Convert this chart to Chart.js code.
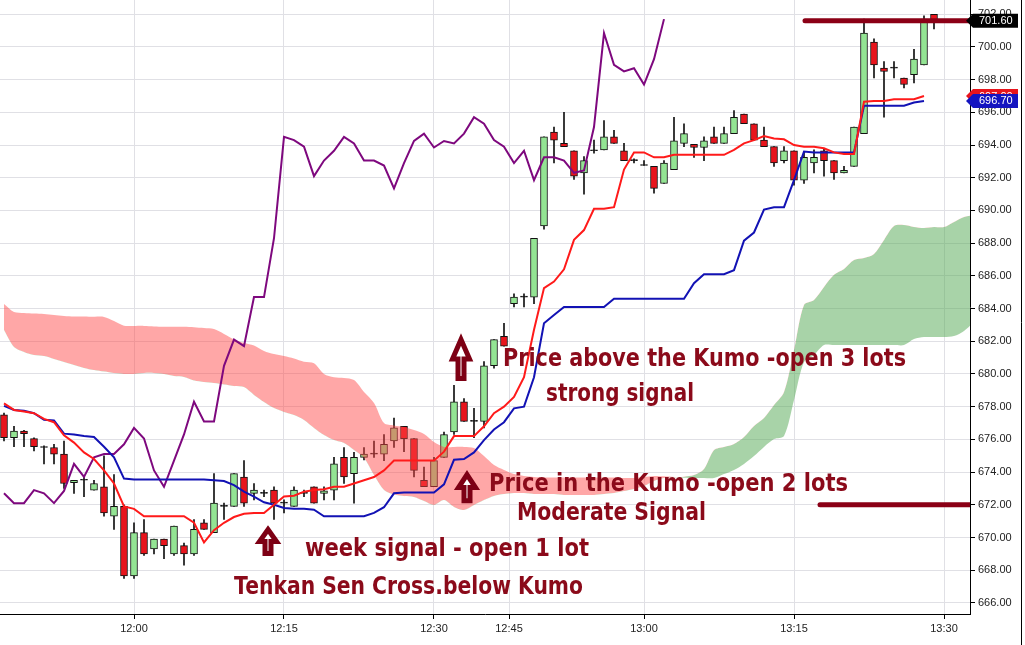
<!DOCTYPE html>
<html lang="en">
<head>
<meta charset="UTF-8">
<title>Ichimoku - sinais</title>
<script src="https://cdn.jsdelivr.net/npm/chart.js"></script>
<style>
  html, body { margin: 0; padding: 0; background: #fff; }
  .wrap { position: relative; width: 1025px; height: 645px; }
</style>
</head>
<body>
<div class="wrap"><canvas id="grafico"></canvas></div>
<script>
// one candle per 1-minute bar, index 0 = first bar on the left
const opens = [
  677.5, 676.1, 676.5, 676.05, 675.5, 675.5, 675.1, 673.35, 673.5, 672.9,
  673.1, 671.3, 671.9, 667.65, 670.3, 669.3, 669.9, 669.0, 669.5, 669.0,
  670.9, 670.3, 671.9, 671.9, 673.7, 672.7, 672.7, 672.9, 672.1, 671.9,
  672.7, 673.1, 672.7, 672.9, 674.9, 673.9, 674.9, 675.1, 675.1, 675.9,
  676.8, 676.05, 673.5, 673.1, 674.9, 676.45, 678.3, 677.1, 677.1, 680.5,
  682.3, 684.3, 684.7, 684.7, 689.05, 694.8, 694.1, 693.65, 692.3, 693.65,
  693.7, 694.5, 693.65, 693.05, 692.75, 692.7, 691.65, 692.5, 694.1, 694.05,
  693.85, 694.5, 694.1, 694.7, 695.9, 695.3, 694.3, 693.9, 693.05, 693.65,
  691.85, 692.9, 693.65, 693.05, 692.3, 692.7, 694.7, 700.3, 698.7, 698.7,
  698.1, 698.3, 698.9, 702.0
];
const highs = [
  677.6, 676.8, 676.55, 676.1, 675.6, 675.7, 675.9, 673.5, 673.7, 673.5,
  675.0, 673.85, 672.0, 670.9, 671.1, 669.9, 669.9, 670.7, 669.65, 671.1,
  671.1, 673.9, 672.1, 673.9, 674.7, 673.3, 672.9, 673.1, 672.3, 673.1,
  672.9, 673.1, 673.1, 674.9, 675.5, 675.2, 675.5, 675.9, 676.3, 677.3,
  676.8, 676.05, 674.3, 674.9, 676.45, 679.3, 678.5, 677.9, 680.75, 682.1,
  683.1, 684.9, 684.9, 688.3, 694.5, 695.1, 696.0, 693.65, 693.3, 694.3,
  695.5, 694.9, 694.1, 693.15, 693.05, 692.7, 693.05, 695.7, 695.3, 694.05,
  694.5, 695.1, 695.1, 696.1, 695.9, 695.3, 695.1, 693.9, 693.9, 693.65,
  693.6, 693.7, 693.8, 693.05, 692.7, 695.1, 701.7, 700.5, 699.1, 699.1,
  698.1, 699.85, 701.9, 702.0
];
const lows = [
  675.9, 675.55, 675.55, 675.3, 674.5, 674.5, 673.0, 672.7, 672.5, 672.9,
  671.3, 670.5, 667.5, 667.5, 668.9, 669.0, 668.7, 668.9, 668.3, 668.9,
  670.5, 670.3, 671.1, 671.9, 671.9, 672.3, 672.5, 671.1, 671.5, 671.9,
  672.5, 672.1, 672.3, 672.3, 673.3, 672.1, 674.75, 674.9, 674.7, 675.5,
  675.25, 673.7, 673.1, 673.1, 674.9, 676.3, 677.1, 676.1, 676.7, 680.35,
  681.7, 684.1, 684.1, 684.3, 688.85, 692.9, 693.9, 691.9, 691.0, 693.5,
  693.7, 694.1, 693.05, 692.9, 692.75, 691.05, 691.65, 692.5, 693.9, 693.25,
  693.05, 694.1, 694.1, 694.7, 695.3, 694.3, 693.9, 692.7, 692.9, 691.55,
  691.65, 692.3, 692.1, 691.9, 692.3, 692.7, 694.7, 698.1, 695.7, 698.1,
  697.5, 697.8, 698.9, 701.1
];
const closes = [
  676.1, 676.5, 676.35, 675.55, 675.5, 675.1, 673.3, 673.5, 673.5, 673.3,
  671.5, 671.9, 667.65, 670.3, 669.0, 669.9, 669.5, 670.7, 669.0, 670.5,
  670.5, 672.1, 671.9, 673.9, 672.1, 672.9, 672.7, 672.1, 672.1, 672.9,
  672.7, 672.1, 672.85, 674.5, 673.7, 674.9, 675.1, 675.1, 675.7, 676.7,
  676.05, 674.1, 673.1, 674.7, 676.3, 678.3, 677.1, 677.1, 680.5, 682.1,
  681.7, 684.7, 684.7, 688.3, 694.5, 694.3, 693.9, 692.1, 693.05, 693.65,
  694.5, 694.1, 693.05, 693.05, 692.75, 691.35, 692.9, 694.25, 694.7, 693.85,
  694.25, 694.1, 694.7, 695.7, 695.3, 694.3, 693.9, 692.9, 693.65, 691.85,
  693.25, 693.25, 693.05, 692.3, 692.45, 695.1, 700.85, 698.9, 698.5, 698.7,
  697.7, 699.25, 701.7, 701.6
];

// Tenkan Sen (red) and Kijun Sen (blue), bars 0..92
const tenkan = [
  678.2, 677.8, 677.7, 677.6, 677.25, 677.05, 676.25, 675.8, 675.2, 674.8,
  674.1, 673.3, 671.9, 671.75, 671.3, 671.3, 671.3, 671.3, 671.3, 670.9,
  669.7, 670.45, 670.9, 671.25, 671.45, 671.5, 671.5, 672.0, 672.5, 672.55,
  672.8, 672.9, 672.95, 673.1, 673.1, 673.3, 673.5, 673.7, 674.1, 674.7,
  674.7, 674.7, 674.7, 674.7, 675.25, 676.2, 676.2, 676.2, 676.8, 677.6,
  678.0, 678.6, 679.8, 682.7, 685.25, 685.65, 686.4, 688.2, 688.8, 690.1,
  690.1, 690.2, 692.5, 693.55, 693.55, 693.25, 693.25, 693.4, 693.4, 693.4,
  693.4, 693.4, 693.4, 693.7, 694.1, 694.3, 694.55, 694.4, 694.35, 694.0,
  693.9, 693.9, 693.8, 693.55, 693.45, 693.45, 696.65, 696.7, 696.7, 696.8,
  696.8, 696.8, 697.0
];
const kijun = [
  678.05, 677.8, 677.75, 677.6, 677.2, 677.15, 676.35, 676.3, 676.2, 676.15,
  675.55, 674.9, 673.6, 673.55, 673.55, 673.55, 673.55, 673.55, 673.55, 673.55,
  673.55, 673.5, 673.45, 673.2, 672.8, 672.5, 672.15, 672.0, 671.8, 671.75,
  671.75, 671.7, 671.3, 671.3, 671.3, 671.3, 671.3, 671.5, 671.85, 672.7,
  672.75, 672.75, 672.75, 672.75, 673.25, 674.75, 674.8, 675.2, 675.95, 676.6,
  677.05, 677.9, 678.0, 679.8, 683.1, 683.6, 684.1, 684.1, 684.1, 684.1,
  684.1, 684.6, 684.6, 684.6, 684.6, 684.6, 684.6, 684.6, 684.6, 685.55,
  686.1, 686.1, 686.1, 686.35, 688.15, 688.65, 690.05, 690.2, 690.2, 691.85,
  693.6, 693.55, 693.55, 693.55, 693.55, 693.55, 696.4, 696.4, 696.4, 696.4,
  696.4, 696.6, 696.7
];
// Chikou Span (purple), bars 0..66
const chikou = [
  672.7, 672.1, 672.1, 672.9, 672.7, 672.1, 672.85, 674.5, 673.7, 674.9,
  675.1, 675.1, 675.7, 676.7, 676.05, 674.1, 673.1, 674.7, 676.3, 678.3,
  677.1, 677.1, 680.5, 682.1, 681.7, 684.7, 684.7, 688.3, 694.5, 694.3,
  693.9, 692.1, 693.05, 693.65, 694.5, 694.1, 693.05, 693.05, 692.75, 691.35,
  692.9, 694.25, 694.7, 693.85, 694.25, 694.1, 694.7, 695.7, 695.3, 694.3,
  693.9, 692.9, 693.65, 691.85, 693.25, 693.25, 693.05, 692.3, 692.45, 695.1,
  700.85, 698.9, 698.5, 698.7, 697.7, 699.25, 701.7
];
// Kumo edges, bars 0..97
const spanA = [
  682.69, 681.65, 681.35, 681.16, 681.10, 680.92, 680.73, 680.55, 680.37, 680.24,
  680.15, 680.06, 680.00, 680.00, 680.06, 680.06, 680.00, 679.88, 679.82, 679.60,
  679.51, 679.45, 679.36, 679.27, 679.20, 678.72, 678.29, 677.92, 677.68, 677.49,
  677.19, 676.70, 676.27, 675.96, 675.78, 675.35, 674.86, 673.82, 672.91, 672.63,
  672.54, 672.48, 672.23, 671.99, 672.29, 671.87, 671.68, 671.99, 672.29, 672.54,
  672.66, 672.72, 672.72, 672.66, 672.66, 672.66, 672.60, 672.60, 672.60, 672.60,
  672.66, 672.72, 672.84, 672.97, 673.15, 673.46, 673.64, 673.67, 673.72, 673.82,
  674.19, 675.35, 675.54, 675.72, 676.15, 676.82, 677.31, 678.10, 678.90, 681.47,
  684.22, 684.53, 685.32, 686.06, 686.42, 686.97, 687.09, 687.34, 688.20, 689.05,
  689.11, 688.99, 688.93, 688.99, 688.99, 689.30, 689.60, 689.72
];
const spanB = [
  684.28, 683.79, 683.73, 683.70, 683.67, 683.61, 683.55, 683.52, 683.52, 683.50,
  683.49, 683.24, 682.95, 682.94, 682.94, 682.91, 682.89, 682.89, 682.89, 682.86,
  682.81, 682.75, 682.45, 682.11, 681.90, 681.74, 681.41, 681.22, 681.10, 680.95,
  680.75, 680.65, 680.00, 679.80, 679.76, 679.63, 678.90, 678.23, 677.00, 676.85,
  676.76, 676.57, 676.33, 675.84, 675.54, 675.54, 675.54, 675.47, 674.98, 674.43,
  674.13, 673.88, 673.76, 673.70, 673.67, 673.67, 673.67, 673.67, 673.67, 673.67,
  673.67, 673.67, 673.64, 673.64, 673.70, 673.76, 673.74, 673.70, 673.66, 673.64,
  673.64, 673.64, 673.88, 674.13, 674.50, 674.98, 675.54, 676.02, 676.21, 678.41,
  680.73, 681.16, 681.77, 681.77, 681.77, 681.77, 681.77, 681.77, 681.77, 681.77,
  681.77, 682.14, 682.26, 682.26, 682.26, 682.32, 682.63, 683.18
];

// horizontal price levels drawn by hand on the chart
const levelPrices = [701.6, 672.0];
const levelStartBars = [80.1, 81.6];

// axis ticks
const timeTickBars = [13, 28, 43, 50.5, 64, 79, 94];
const timeTickLabels = ['12:00', '12:15', '12:30', '12:45', '13:00', '13:15', '13:30'];
const priceTicks = [666, 668, 670, 672, 674, 676, 678, 680, 682, 684, 686, 688, 690, 692, 694, 696, 698, 700, 702];

// annotations (anchored to bar index / price)
const notes = [
  { text: 'Price above the Kumo -open 3 lots', bar: 49.9, price: 680.49, w: 403 },
  { text: 'strong signal', bar: 54.2, price: 678.35, w: 148 },
  { text: 'Price in the Kumo -open 2 lots', bar: 48.5, price: 672.84, w: 359 },
  { text: 'Moderate Signal', bar: 51.3, price: 671.07, w: 189 },
  { text: 'week signal - open 1 lot', bar: 30.1, price: 668.87, w: 284 },
  { text: 'Tenkan Sen Cross.below Kumo', bar: 23.0, price: 666.54, w: 349 }
];
const arrows = [
  { bar: 26.4, top: 670.64, bottom: 668.87 },
  { bar: 46.3, top: 674.0, bottom: 672.1 },
  { bar: 45.7, top: 682.26, bottom: 679.57 }
];

const xy = arr => arr.map((v, i) => ({ x: i, y: v }));
const corpo = opens.map((o, i) => ({ x: i, y: [o, closes[i]] }));
const pavio = lows.map((l, i) => ({ x: i, y: [l, highs[i]] }));

function corCandle(ctx) {
  const i = ctx.dataIndex;
  if (closes[i] > opens[i]) return '#93e493';
  if (closes[i] < opens[i]) return '#e8141c';
  return '#111';
}

const anotacoes = {
  id: 'anotacoes',
  afterDatasetsDraw(chart) {
    const { ctx, scales: { x, y } } = chart;
    ctx.save();
    // hollow up arrows
    arrows.forEach(a => {
      const cx = x.getPixelForValue(a.bar);
      const t = y.getPixelForValue(a.top) + 2.5;
      const b = y.getPixelForValue(a.bottom) - 2.5;
      const headH = Math.min(20, (b - t) * 0.5);
      ctx.beginPath();
      ctx.moveTo(cx, t);
      ctx.lineTo(cx + 8.5, t + headH);
      ctx.lineTo(cx + 3, t + headH);
      ctx.lineTo(cx + 3, b);
      ctx.lineTo(cx - 3, b);
      ctx.lineTo(cx - 3, t + headH);
      ctx.lineTo(cx - 8.5, t + headH);
      ctx.closePath();
      ctx.fillStyle = '#fff';
      ctx.fill();
      ctx.lineWidth = 5;
      ctx.lineJoin = 'miter';
      ctx.strokeStyle = '#7d0014';
      ctx.stroke();
    });
    // texts
    ctx.font = 'bold 24px "DejaVu Sans"';
    ctx.fillStyle = '#8b0a1a';
    ctx.textBaseline = 'alphabetic';
    ctx.textAlign = 'left';
    notes.forEach(n => {
      const px = x.getPixelForValue(n.bar);
      const py = y.getPixelForValue(n.price);
      const mw = ctx.measureText(n.text).width;
      ctx.save();
      ctx.translate(px, py);
      ctx.scale(n.w / mw, 1);
      ctx.fillText(n.text, 0, 0);
      ctx.restore();
    });
    ctx.restore();
  }
};

function etiqueta(ctx, x0, yc, cor, texto) {
  ctx.beginPath();
  ctx.moveTo(x0 - 4, yc);
  ctx.lineTo(x0 + 3, yc - 7);
  ctx.lineTo(x0 + 48, yc - 7);
  ctx.lineTo(x0 + 48, yc + 7);
  ctx.lineTo(x0 + 3, yc + 7);
  ctx.closePath();
  ctx.fillStyle = cor;
  ctx.fill();
  ctx.fillStyle = '#fff';
  ctx.font = '11px "Liberation Sans"';
  ctx.textBaseline = 'middle';
  ctx.textAlign = 'left';
  ctx.fillText(texto, x0 + 9, yc + 0.5);
}

const precos = {
  id: 'precos',
  afterDraw(chart) {
    const { ctx, chartArea, scales: { y } } = chart;
    const x0 = chartArea.right;
    ctx.save();
    const tk = tenkan[tenkan.length - 1];
    const kj = kijun[kijun.length - 1];
    const ult = closes[closes.length - 1];
    etiqueta(ctx, x0, y.getPixelForValue(tk), '#e8141c', tk.toFixed(2));
    etiqueta(ctx, x0, y.getPixelForValue(kj), '#1414c0', kj.toFixed(2));
    etiqueta(ctx, x0, y.getPixelForValue(ult), '#000', ult.toFixed(2));
    ctx.strokeStyle = '#000';
    ctx.lineWidth = 1;
    ctx.beginPath();
    ctx.moveTo(1021.5, 0);
    ctx.lineTo(1021.5, chart.height);
    ctx.stroke();
    ctx.restore();
  }
};

const datasets = [
  { type: 'line', label: 'Tenkan Sen', data: xy(tenkan), borderColor: '#ff1a1a', borderWidth: 2, pointRadius: 0, tension: 0, order: 1 },
  { type: 'line', label: 'Kijun Sen', data: xy(kijun), borderColor: '#1212b4', borderWidth: 2, pointRadius: 0, tension: 0, order: 1 },
  { type: 'line', label: 'Chikou Span', data: xy(chikou), borderColor: '#7e087e', borderWidth: 2, pointRadius: 0, tension: 0, order: 1 },
  { type: 'line', label: 'Senkou A', data: xy(spanA), borderColor: 'transparent', borderWidth: 0, pointRadius: 0, tension: 0.3, fill: false, order: 3 },
  { type: 'line', label: 'Senkou B', data: xy(spanB), borderColor: 'transparent', borderWidth: 0, pointRadius: 0, tension: 0.3,
    fill: { target: '-1', above: 'rgba(255,72,72,0.48)', below: 'rgba(82,168,82,0.5)' }, order: 3 },
  { type: 'bar', label: 'Corpo', data: corpo, barThickness: 7, minBarLength: 1, borderWidth: 1, borderColor: '#111',
    backgroundColor: corCandle, borderSkipped: false, grouped: false, order: 5 },
  { type: 'bar', label: 'Pavio', data: pavio, barThickness: 1, backgroundColor: '#111', borderWidth: 0, grouped: false, order: 6 }
];
levelPrices.forEach((p, k) => {
  datasets.push({ type: 'line', label: 'Nivel ' + p, data: [{ x: levelStartBars[k], y: p }, { x: 97, y: p }],
    borderColor: '#8b0016', borderWidth: 5, borderCapStyle: 'round', pointRadius: 0, order: 0 });
});

new Chart(document.getElementById('grafico'), {
  type: 'bar',
  data: { datasets },
  plugins: [anotacoes, precos],
  options: {
    responsive: true,
    maintainAspectRatio: false,
    animation: false,
    events: [],
    layout: { padding: 0 },
    plugins: { legend: { display: false }, tooltip: { enabled: false } },
    scales: {
      x: {
        type: 'linear', min: -0.4, max: 96.6, offset: false,
        afterBuildTicks: s => { s.ticks = timeTickBars.map(v => ({ value: v })); },
        afterFit: s => { s.height = 31; s.paddingLeft = 0; s.paddingRight = 0; },
        ticks: { callback: (v, i) => timeTickLabels[i], autoSkip: false, maxRotation: 0, padding: 3,
          color: '#222', font: { family: 'Liberation Sans', size: 11 } },
        grid: { offset: false, color: '#e0e0e5', tickColor: '#000', tickLength: 5 },
        border: { color: '#000', width: 1 }
      },
      y: {
        position: 'right', min: 665.32, max: 702.87, beginAtZero: false,
        afterBuildTicks: s => { s.ticks = priceTicks.map(v => ({ value: v })); },
        afterFit: s => { s.width = 55; s.paddingTop = 0; s.paddingBottom = 0; },
        ticks: { callback: v => v.toFixed(2), padding: 3, color: '#222', font: { family: 'Liberation Sans', size: 11 } },
        grid: { color: '#e0e0e5', tickColor: '#000', tickLength: 5 },
        border: { color: '#000', width: 1 }
      }
    }
  }
});
</script>
</body>
</html>
